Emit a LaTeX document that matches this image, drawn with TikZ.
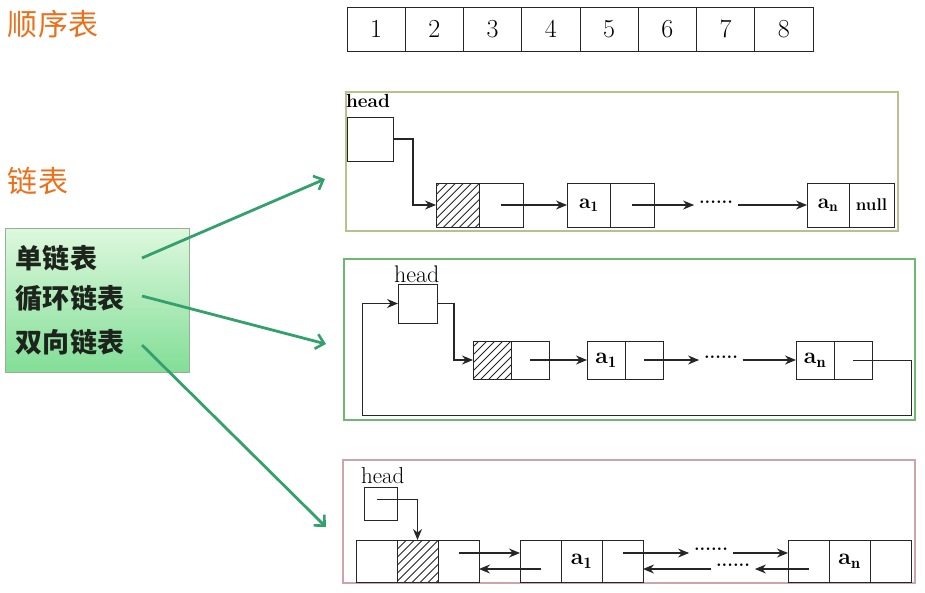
\documentclass[tikz,border=0pt]{standalone}
\usepackage{fontspec}
\newfontfamily\cjk{Noto Sans CJK SC}
\usetikzlibrary{arrows.meta,calc}
\definecolor{orangeT}{RGB}{234,112,28}
\definecolor{arrowG}{RGB}{52,160,110}
\definecolor{frameA}{RGB}{190,190,140}
\definecolor{frameB}{RGB}{112,184,112}
\definecolor{frameC}{RGB}{204,164,172}
\definecolor{gboxTop}{RGB}{222,248,222}
\definecolor{gboxBot}{RGB}{130,222,150}
\definecolor{gboxEdge}{RGB}{150,175,150}
\definecolor{labelC}{RGB}{28,36,28}
\newcommand{\hatchcell}[1]{%
  \begin{scope}
    \clip (#1.south west) rectangle (#1.north east);
    \foreach \k in {-64,-56,...,64}
      \draw[line width=0.8pt, black!85] ($(#1.center)+(\k-30,30)$) -- ($(#1.center)+(\k+30,-30)$);
  \end{scope}}
\begin{document}
\begin{tikzpicture}[x=1pt,y=-1pt,
  every node/.style={inner sep=0pt, outer sep=0pt},
  box/.style={draw=black!85, line width=1pt, inner sep=0pt},
  arrcell/.style={box, minimum width=58.25pt, minimum height=44pt, font=\fontsize{26}{26}\selectfont},
  ca/.style={box, minimum width=43.5pt, minimum height=44pt, font=\bfseries\fontsize{21}{21}\selectfont},
  cb/.style={box, minimum width=38pt, minimum height=38pt, font=\bfseries\fontsize{23}{23}\selectfont},
  cc/.style={box, minimum width=41pt, minimum height=42pt, font=\bfseries\fontsize{23}{23}\selectfont},
  arr/.style={-{Stealth[length=11pt,width=9pt]}, line width=1.1pt, draw=black!85},
  dotsS/.style={inner sep=5pt, font=\bfseries\fontsize{18}{18}\selectfont},
  garr/.style={-{Straight Barb[length=8pt,width=15pt,line width=2.6pt]}, draw=arrowG, line width=2.8pt},
  title/.style={text=orangeT, font=\cjk\fontsize{30}{30}\selectfont, anchor=west},
  glabel/.style={text=labelC, font=\cjk\bfseries\fontsize{27}{27}\selectfont, anchor=west},
  headB/.style={font=\bfseries\fontsize{19}{19}\selectfont, anchor=west},
  headR/.style={font=\fontsize{24}{24}\selectfont, anchor=west},
  headR3/.style={font=\fontsize{23}{23}\selectfont, anchor=west}
]
\useasboundingbox (0,0) rectangle (925,592);

% titles
\node[title] (t1) at (8,24) {顺序表};
\node[title] (t2) at (8,181) {链表};

% sequential array
\node[arrcell, anchor=west] (s1) at (347,29) {1};
\foreach \i [count=\j from 1] in {2,...,8} {
  \node[arrcell, anchor=west] (s\i) at (s\j.east) {\i};
}

% green box with labels
\node[draw=gboxEdge, line width=0.8pt, top color=gboxTop, bottom color=gboxBot,
      minimum width=184pt, minimum height=144pt] (gb) at (97,300) {};
\node[glabel] (l1) at (16,258) {单链表};
\node[glabel] (l2) at (16,298) {循环链表};
\node[glabel] (l3) at (16,342) {双向链表};

\coordinate (g1s) at (142,258);
\coordinate (g1e) at (325,179);
\coordinate (g2s) at (142,296);
\coordinate (g2e) at (326,344);
\coordinate (g3s) at (142,345);
\coordinate (g3e) at (326,527);
\draw[garr] (g1s) -- (g1e);
\draw[garr] (g2s) -- (g2e);
\draw[garr] (g3s) -- (g3e);

% ---------- panel 1: singly linked list ----------
\node[draw=frameA, line width=1.3pt, minimum width=552pt, minimum height=139pt] (f1) at (622,161.5) {};
\node[headB] (hd1) at (346,101) {head};
\node[box, minimum width=46pt, minimum height=44pt] (h1) at (370,139) {};
\node[ca, anchor=west] (p1a) at (436,205) {};
\hatchcell{p1a}
\node[ca, anchor=west] (p1b) at (p1a.east) {};
\node[ca, anchor=west] (q1a) at (567,205) {a$_{\mathbf{1}}$};
\node[ca, anchor=west] (q1b) at (q1a.east) {};
\node[ca, minimum width=42pt, anchor=west] (r1a) at (807,205) {a$_{\mathbf{n}}$};
\node[ca, minimum width=45pt, anchor=west, font=\bfseries\fontsize{17}{17}\selectfont] (r1b) at (r1a.east) {null};
\node[dotsS] (d1) at (716,202) {......};
\draw[arr] (h1.east) -- ++(20,0) |- (p1a.west);
\draw[arr] (p1b.center) -- (q1a.west);
\draw[arr] (q1b.center) -- (d1.west |- q1b.center);
\draw[arr] (d1.east |- q1b.center) -- (r1a.west);

% ---------- panel 2: circular linked list ----------
\node[draw=frameB, line width=1.3pt, minimum width=571pt, minimum height=161pt] (f2) at (629.5,339.5) {};
\node[headR] (hd2) at (394,274) {head};
\node[box, minimum width=39pt, minimum height=39pt] (h2) at (417.5,303.5) {};
\node[cb, anchor=west] (p2a) at (473,360) {};
\hatchcell{p2a}
\node[cb, anchor=west] (p2b) at (p2a.east) {};
\node[cb, anchor=west] (q2a) at (587,360) {a$_{\mathbf{1}}$};
\node[cb, anchor=west] (q2b) at (q2a.east) {};
\node[cb, anchor=west] (r2a) at (796,360) {a$_{\mathbf{n}}$};
\node[cb, anchor=west] (r2b) at (r2a.east) {};
\node[dotsS] (d2) at (721,357) {......};
\coordinate (loopR) at (911,415);
\coordinate (loopL) at (362,415);
\draw[arr] (h2.east) -- ++(17,0) |- (p2a.west);
\draw[arr] (p2b.center) -- (q2a.west);
\draw[arr] (q2b.center) -- (d2.west |- q2b.center);
\draw[arr] (d2.east |- q2b.center) -- (r2a.west);
\draw[arr, line width=1pt] (r2b.center) -| (loopR) -- (loopL) |- (h2.west);

% ---------- panel 3: doubly linked list ----------
\node[draw=frameC, line width=1.3pt, minimum width=572pt, minimum height=123pt] (f3) at (629,521.5) {};
\node[headR3] (hd3) at (361,476) {head};
\node[box, minimum width=33pt, minimum height=33pt] (h3) at (380.5,503.5) {};
\node[cc, anchor=west] (d3a) at (356,561) {};
\node[cc, anchor=west] (d3b) at (d3a.east) {};
\hatchcell{d3b}
\node[cc, anchor=west] (d3c) at (d3b.east) {};
\node[cc, anchor=west] (e3a) at (520,561) {};
\node[cc, anchor=west] (e3b) at (e3a.east) {a$_{\mathbf{1}}$};
\node[cc, anchor=west] (e3c) at (e3b.east) {};
\node[cc, anchor=west] (f3a) at (788,561) {};
\node[cc, anchor=west] (f3b) at (f3a.east) {a$_{\mathbf{n}}$};
\node[cc, anchor=west] (f3c) at (f3b.east) {};
\coordinate (rowT) at (0,553);
\coordinate (rowB) at (0,569);
\node[dotsS] (dt) at (711,549) {......};
\node[dotsS] (db) at (733,565) {......};
\draw[arr] ([xshift=-4pt,yshift=4pt]h3.center) -| (d3b.north);
\draw[arr] (d3c.center |- rowT) -- (e3a.west |- rowT);
\draw[arr] (e3a.center |- rowB) -- (d3c.east |- rowB);
\draw[arr] (e3c.center |- rowT) -- (dt.west |- rowT);
\draw[arr] (dt.east |- rowT) -- (f3a.west |- rowT);
\draw[arr] (f3a.center |- rowB) -- (db.east |- rowB);
\draw[arr] (db.west |- rowB) -- (e3c.east |- rowB);
\end{tikzpicture}
\end{document}
